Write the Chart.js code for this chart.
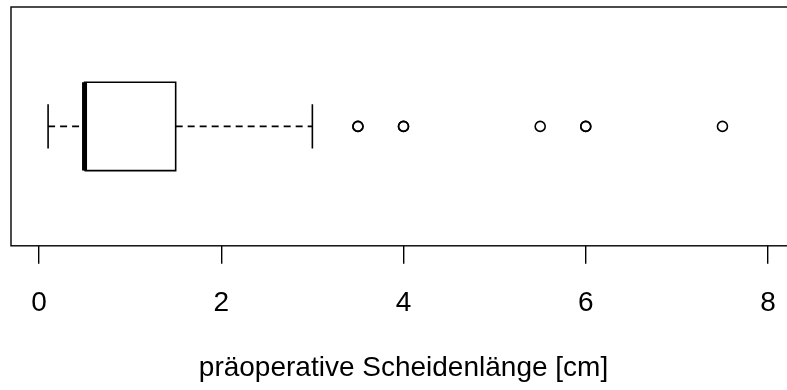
<!DOCTYPE html>
<html>
<head>
<meta charset="utf-8">
<script src="https://cdn.jsdelivr.net/npm/chart.js@4.4.1/dist/chart.umd.min.js"></script>
<style>
    html, body { margin: 0; padding: 0; background: #fff; overflow: hidden; }
    #wrap { width: 810px; height: 390px; }
</style>
</head>
<body>
<div id="wrap"><canvas id="boxChart" width="810" height="390"></canvas></div>
<script>
    // five-number summary of the vaginal length before surgery (cm)
    const whiskerLow = 0.1;
    const quartile1 = 0.5;
    const median = 0.5;
    const quartile3 = 1.5;
    const whiskerHigh = 3;
    // outliers, repeated values plotted on top of each other
    const outliers = [3.5, 3.5, 4, 4, 5.5, 6, 6, 7.5];
    const xTicks = [0, 2, 4, 6, 8];
    const axisTitle = 'präoperative Scheidenlänge [cm]';

    // vertical layout of the single box (hidden y scale)
    const mid = 1, boxHalf = 0.2, capHalf = 0.1;

    Chart.defaults.font.family = '"Liberation Sans", Arial, sans-serif';
    Chart.defaults.color = '#000';

    // frame around the plot region
    const frame = {
        id: 'frame',
        afterDraw(chart) {
            const a = chart.chartArea;
            const c = chart.ctx;
            c.save();
            c.strokeStyle = '#000';
            c.lineWidth = 1.4;
            c.strokeRect(a.left, a.top, a.right - a.left, a.bottom - a.top);
            c.restore();
        }
    };

    function seg(x1, y1, x2, y2) {
        return [{x: x1, y: y1}, {x: x2, y: y2}];
    }

    const lineBase = {
        showLine: true,
        pointRadius: 0,
        borderColor: '#000',
        borderWidth: 1.6,
        borderCapStyle: 'butt',
        fill: false
    };

    let canvas = document.querySelector('#boxChart');

    new Chart(canvas.getContext('2d'), {
        type: 'scatter',
        data: {
            datasets: [
                Object.assign({}, lineBase, {data: seg(whiskerLow, mid, quartile1, mid), borderDash: [7, 5]}),
                Object.assign({}, lineBase, {data: seg(quartile3, mid, whiskerHigh, mid), borderDash: [7, 5]}),
                Object.assign({}, lineBase, {data: seg(whiskerLow, mid - capHalf, whiskerLow, mid + capHalf)}),
                Object.assign({}, lineBase, {data: seg(whiskerHigh, mid - capHalf, whiskerHigh, mid + capHalf)}),
                Object.assign({}, lineBase, {
                    data: [
                        {x: quartile1, y: mid - boxHalf},
                        {x: quartile3, y: mid - boxHalf},
                        {x: quartile3, y: mid + boxHalf},
                        {x: quartile1, y: mid + boxHalf},
                        {x: quartile1, y: mid - boxHalf}
                    ],
                    borderJoinStyle: 'miter'
                }),
                Object.assign({}, lineBase, {data: seg(median, mid - boxHalf, median, mid + boxHalf), borderWidth: 5}),
                {
                    data: outliers.map(v => ({x: v, y: mid})),
                    showLine: false,
                    pointStyle: 'circle',
                    pointRadius: 5,
                    pointBorderWidth: 1.6,
                    pointBorderColor: '#000',
                    pointBackgroundColor: 'rgba(0,0,0,0)'
                }
            ]
        },
        options: {
            responsive: false,
            animation: false,
            events: [],
            layout: {
                padding: {left: 11, top: 7, right: 14, bottom: 0}
            },
            plugins: {
                legend: {display: false},
                tooltip: {enabled: false}
            },
            scales: {
                x: {
                    type: 'linear',
                    min: -0.307,
                    max: 8.307,
                    afterBuildTicks: function (scale) {
                        scale.ticks = xTicks.map(v => ({value: v}));
                    },
                    border: {display: false},
                    grid: {
                        drawOnChartArea: false,
                        drawTicks: true,
                        tickLength: 18,
                        color: '#000',
                        lineWidth: 1.4
                    },
                    ticks: {
                        padding: 23,
                        maxRotation: 0,
                        font: {size: 28},
                        color: '#000'
                    },
                    title: {
                        display: true,
                        text: axisTitle,
                        font: {size: 28},
                        color: '#000',
                        padding: {top: 8, bottom: 5}
                    }
                },
                y: {
                    type: 'linear',
                    display: false,
                    min: 0.46,
                    max: 1.54
                }
            }
        },
        plugins: [frame]
    });
</script>
</body>
</html>
